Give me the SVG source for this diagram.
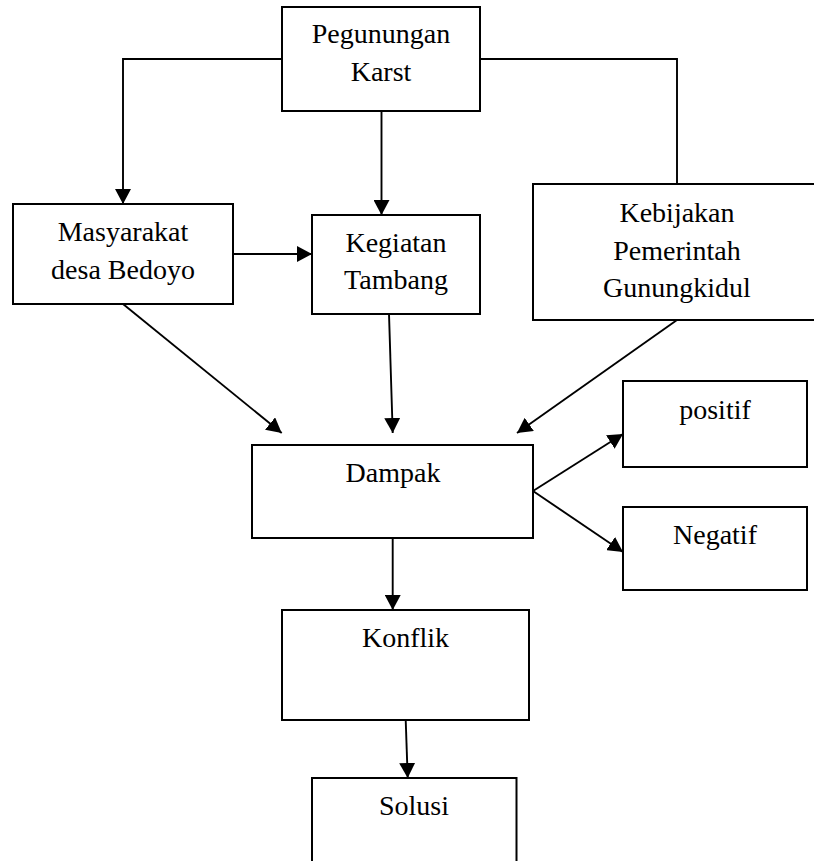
<svg xmlns="http://www.w3.org/2000/svg" width="814" height="861" viewBox="0 0 814 861">
<style>
.box{fill:#fff;stroke:#000;stroke-width:2}
.lbl{font-family:"Liberation Serif","Times New Roman",serif;font-size:28px;fill:#000;text-anchor:middle}
.con{fill:none;stroke:#000;stroke-width:1.9}
.arr{marker-end:url(#ah)}
</style>
<defs>
<marker id="ah" viewBox="0 0 15 16" refX="15" refY="8" markerWidth="15" markerHeight="16" markerUnits="userSpaceOnUse" orient="auto">
<path d="M0,0 L15,8 L0,16 Z" fill="#000"/>
</marker>
</defs>
<rect width="814" height="861" fill="#fff"/>
<g id="connectors">
<path class="con arr" d="M282,59 H123 V204"/>
<path class="con" d="M480,59 H677 V184"/>
<path class="con arr" d="M381.5,111 V215"/>
<path class="con arr" d="M233,254 H312"/>
<path class="con arr" d="M123,304 L281.7,433"/>
<path class="con arr" d="M389,314 L392.7,433"/>
<path class="con arr" d="M677,320 L517,433"/>
<path class="con arr" d="M533,491 L623,434"/>
<path class="con arr" d="M533,491 L623,552"/>
<path class="con arr" d="M392.7,538 V610"/>
<path class="con arr" d="M405.7,720 L407.7,778"/>
</g>
<g id="pegunungan">
<rect class="box" x="282" y="7" width="198" height="104"/>
<text class="lbl" x="381" y="43">Pegunungan</text>
<text class="lbl" x="381" y="81">Karst</text>
</g>
<g id="masyarakat">
<rect class="box" x="13" y="204" width="220" height="100"/>
<text class="lbl" x="123" y="241">Masyarakat</text>
<text class="lbl" x="123" y="279">desa Bedoyo</text>
</g>
<g id="kegiatan">
<rect class="box" x="312" y="215" width="168" height="99"/>
<text class="lbl" x="396" y="252">Kegiatan</text>
<text class="lbl" x="396" y="289">Tambang</text>
</g>
<g id="kebijakan">
<rect class="box" x="533" y="184" width="288" height="136"/>
<text class="lbl" x="677" y="222">Kebijakan</text>
<text class="lbl" x="677" y="260">Pemerintah</text>
<text class="lbl" x="677" y="297">Gunungkidul</text>
</g>
<g id="dampak">
<rect class="box" x="252" y="445" width="281" height="93"/>
<text class="lbl" x="393" y="482">Dampak</text>
</g>
<g id="positif">
<rect class="box" x="623" y="381" width="184" height="86"/>
<text class="lbl" x="715" y="419">positif</text>
</g>
<g id="negatif">
<rect class="box" x="623" y="507" width="184" height="83"/>
<text class="lbl" x="715" y="544">Negatif</text>
</g>
<g id="konflik">
<rect class="box" x="282" y="610" width="247" height="110"/>
<text class="lbl" x="405.5" y="647">Konflik</text>
</g>
<g id="solusi">
<rect class="box" x="312" y="778" width="204.5" height="100"/>
<text class="lbl" x="414" y="815">Solusi</text>
</g>
</svg>
